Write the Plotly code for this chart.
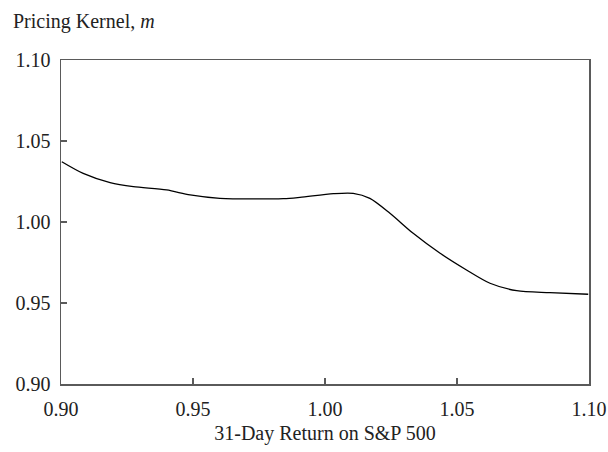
import plotly.graph_objects as go

ret = [0.9003, 0.9084, 0.9186, 0.9274, 0.9400, 0.9489, 0.9602, 0.9842, 0.9905,
       1.0032, 1.0107, 1.0170, 1.0246, 1.0334, 1.0436, 1.0536, 1.0625, 1.0726,
       1.0852, 1.0997]
kernel = [1.0372, 1.0300, 1.0243, 1.0218, 1.0198, 1.0167, 1.0146, 1.0144, 1.0152,
          1.0175, 1.0177, 1.0146, 1.0054, 0.9930, 0.9807, 0.9704, 0.9622, 0.9576,
          0.9564, 0.9554]
ticks = [0.90, 0.95, 1.00, 1.05, 1.10]
tick_text = ["0.90", "0.95", "1.00", "1.05", "1.10"]

FONT = "Liberation Serif"
FS = 20
AX = "#5a5a5a"
TXT = "#222"

fig = go.Figure()
fig.add_trace(go.Scatter(x=ret, y=kernel, mode="lines",
                         line=dict(color="black", width=1.3, shape="spline", smoothing=0.8),
                         showlegend=False, hoverinfo="skip"))

axis_common = dict(showgrid=False, zeroline=False, showline=True, linecolor=AX,
                   linewidth=1.5, mirror=True, ticks="inside", ticklen=6,
                   tickcolor=AX, tickwidth=1.2, tickvals=ticks, ticktext=tick_text,
                   automargin=False,
                   tickfont=dict(family=FONT, size=FS, color=TXT))

fig.update_layout(
    width=608, height=452,
    margin=dict(l=61, r=19, t=60, b=68),
    paper_bgcolor="white", plot_bgcolor="white",
    font=dict(family=FONT, size=FS, color=TXT),
    xaxis=dict(range=[0.90, 1.10], ticklabelstandoff=6,
               title=dict(text="31-Day Return on S&P 500",
                          font=dict(family=FONT, size=FS, color=TXT), standoff=7),
               **axis_common),
    yaxis=dict(range=[0.90, 1.10], ticklabelstandoff=5, **axis_common),
    annotations=[dict(text="Pricing Kernel, <i>m</i>", xref="paper", yref="paper",
                      x=(11 - 61) / 528, y=1 + (60 - 22) / 324, xanchor="left",
                      yanchor="middle", showarrow=False,
                      font=dict(family=FONT, size=FS, color=TXT))],
)

fig.write_html("out.html", config={"displayModeBar": False, "staticPlot": True},
               post_script="document.body.style.margin='0';document.body.style.padding='0';")
